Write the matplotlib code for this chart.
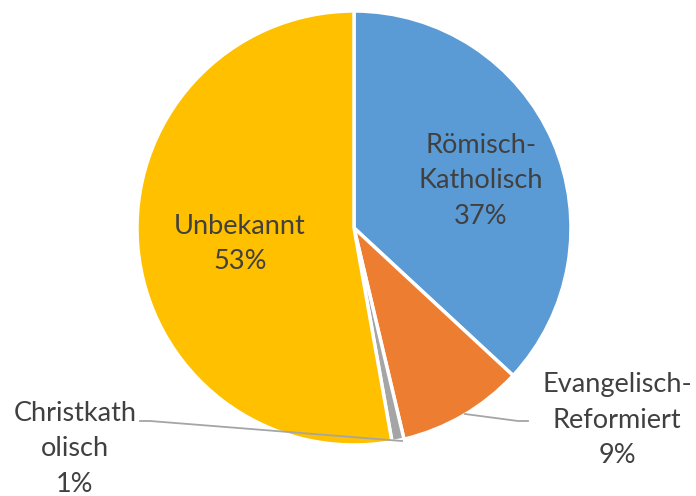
import matplotlib.pyplot as plt

# data
labels = ['Römisch-\nKatholisch', 'Evangelisch-\nReformiert', 'Christkath\nolisch', 'Unbekannt']
values = [36.9, 9.4, 0.9, 52.8]
pct_text = ['37%', '9%', '1%', '53%']
colors = ['#5B9BD5', '#ED7D31', '#A5A5A5', '#FFC000']

W, H = 696, 496
cx, cy, R = 354, 228, 217


def px(x, y):
    # pixel position -> data coords of the pie axes
    return (x - cx) / R, (cy - y) / R


fig = plt.figure(figsize=(W / 100, H / 100), dpi=100)
ax = fig.add_axes([(cx - R) / W, (H - cy - R) / H, 2 * R / W, 2 * R / H])
ax.pie(values, colors=colors, startangle=90, counterclock=False, radius=1,
       wedgeprops=dict(edgecolor='white', linewidth=2.5))
ax.set_xlim(-1, 1)
ax.set_ylim(-1, 1)
ax.set_aspect('equal')
ax.axis('off')

txt = dict(fontsize=19.5, color='#404040', family='Lato', ha='center', va='center',
           linespacing=1.52)

# label positions (pixels)
pos = [(481, 181), (617, 420), (75, 449), (240, 244)]
for lab, pc, (x, y) in zip(labels, pct_text, pos):
    ax.text(*px(x, y), lab + '\n' + pc, clip_on=False, **txt)

# leader lines
line = dict(color='#A5A5A5', lw=1.3, clip_on=False)
xs, ys = zip(*[px(140, 421), px(150, 421), px(402, 441)])
ax.plot(xs, ys, **line)
xs, ys = zip(*[px(465, 414), px(518, 421), px(528, 421)])
ax.plot(xs, ys, **line)

fig.savefig('out.png', dpi=100)
